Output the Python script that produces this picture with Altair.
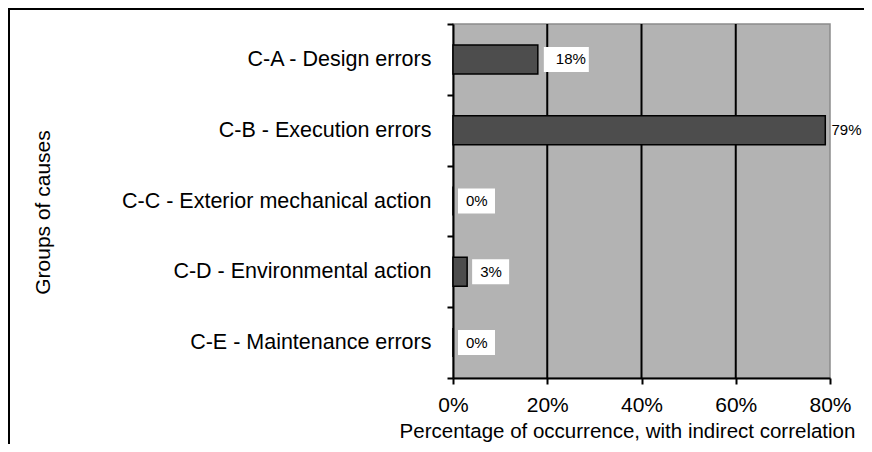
import altair as alt
import pandas as pd

categories = [
    "C-A - Design errors",
    "C-B - Execution errors",
    "C-C - Exterior mechanical action",
    "C-D - Environmental action",
    "C-E - Maintenance errors",
]
values = [0.18, 0.79, 0.0, 0.03, 0.0]
labels = ["18%", "79%", "0%", "3%", "0%"]
grid_values = [0.2, 0.4, 0.6]
tick_values = [0, 0.2, 0.4, 0.6, 0.8]

df = pd.DataFrame({"cause": categories, "value": values, "label": labels})
df["wide"] = df["label"].str.len() > 2
grid_df = pd.DataFrame({"value": grid_values})
frame_df = pd.DataFrame({"a": [0]})

FONT = "Liberation Sans"

xscale = alt.Scale(domain=[0, 0.8], nice=False, zero=True)
yscale = alt.Scale(paddingInner=0, paddingOuter=0)

X_AXIS = alt.Axis(
    values=tick_values,
    format=".0%",
    title="Percentage of occurrence, with indirect correlation",
    labelBaseline="middle",
    labelPadding=21,
    labelFlush=False,
    titleX=174,
    titleY=53,
    titleFontSize=20.5,
    titleAlign="center",
    titleBaseline="middle",
)
Y_AXIS = alt.Axis(
    title="Groups of causes",
    tickBand="extent",
    labelPadding=16,
    labelLimit=0,
    labelFontSize=21.5,
    titleAngle=-90,
    titleX=-410,
    titleY=188,
    titleAlign="center",
    titleBaseline="middle",
)


def xenc(field="value"):
    return alt.X(f"{field}:Q", scale=xscale, axis=X_AXIS)


def yenc():
    return alt.Y("cause:N", sort=categories, scale=yscale, axis=Y_AXIS)


grid = alt.Chart(grid_df).mark_rule(color="black", strokeWidth=2).encode(x=xenc())

bars = alt.Chart(df).mark_bar(
    height=29, fill="#4d4d4d", stroke="black", strokeWidth=1.5
).encode(x=xenc(), y=yenc())

box_wide = alt.Chart(df).transform_filter("datum.wide").mark_bar(
    height=25, color="white", xOffset=6, x2Offset=51
).encode(x=xenc(), x2=alt.X2("value:Q"), y=yenc())

box_narrow = alt.Chart(df).transform_filter("!datum.wide").mark_bar(
    height=25, color="white", xOffset=5, x2Offset=42
).encode(x=xenc(), x2=alt.X2("value:Q"), y=yenc())

# keep the label of the longest bar inside the page
text_wide = alt.Chart(df).transform_filter("datum.wide").transform_calculate(
    value="min(datum.value, 0.765)"
).mark_text(
    align="left", baseline="middle", dx=18, font=FONT, fontSize=15, color="black"
).encode(x=xenc(), y=yenc(), text="label:N")

text_narrow = alt.Chart(df).transform_filter("!datum.wide").mark_text(
    align="left", baseline="middle", dx=13, font=FONT, fontSize=15, color="black"
).encode(x=xenc(), y=yenc(), text="label:N")

frame = alt.Chart(frame_df).mark_rect(
    fillOpacity=0, stroke="black", strokeWidth=2
).encode(
    x=alt.value(-444), x2=alt.value(700), y=alt.value(-15), y2=alt.value(700)
)

chart = alt.layer(
    grid, bars, box_wide, box_narrow, text_wide, text_narrow, frame
).properties(
    width=377,
    height=354,
    autosize=alt.AutoSizeParams(type="none"),
    padding={"left": 445, "top": 16, "right": 34, "bottom": 66},
).configure_view(
    fill="#b3b3b3", stroke="#8c8c8c", strokeWidth=1.5
).configure_axis(
    domainColor="black",
    domainWidth=2,
    tickColor="black",
    tickWidth=2,
    tickSize=6,
    grid=False,
    labelFont=FONT,
    labelFontSize=21,
    labelColor="black",
    titleFont=FONT,
    titleFontSize=21,
    titleFontWeight="normal",
    titleColor="black",
)

chart.save("out.html", embed_options={"renderer": "svg", "actions": False})
